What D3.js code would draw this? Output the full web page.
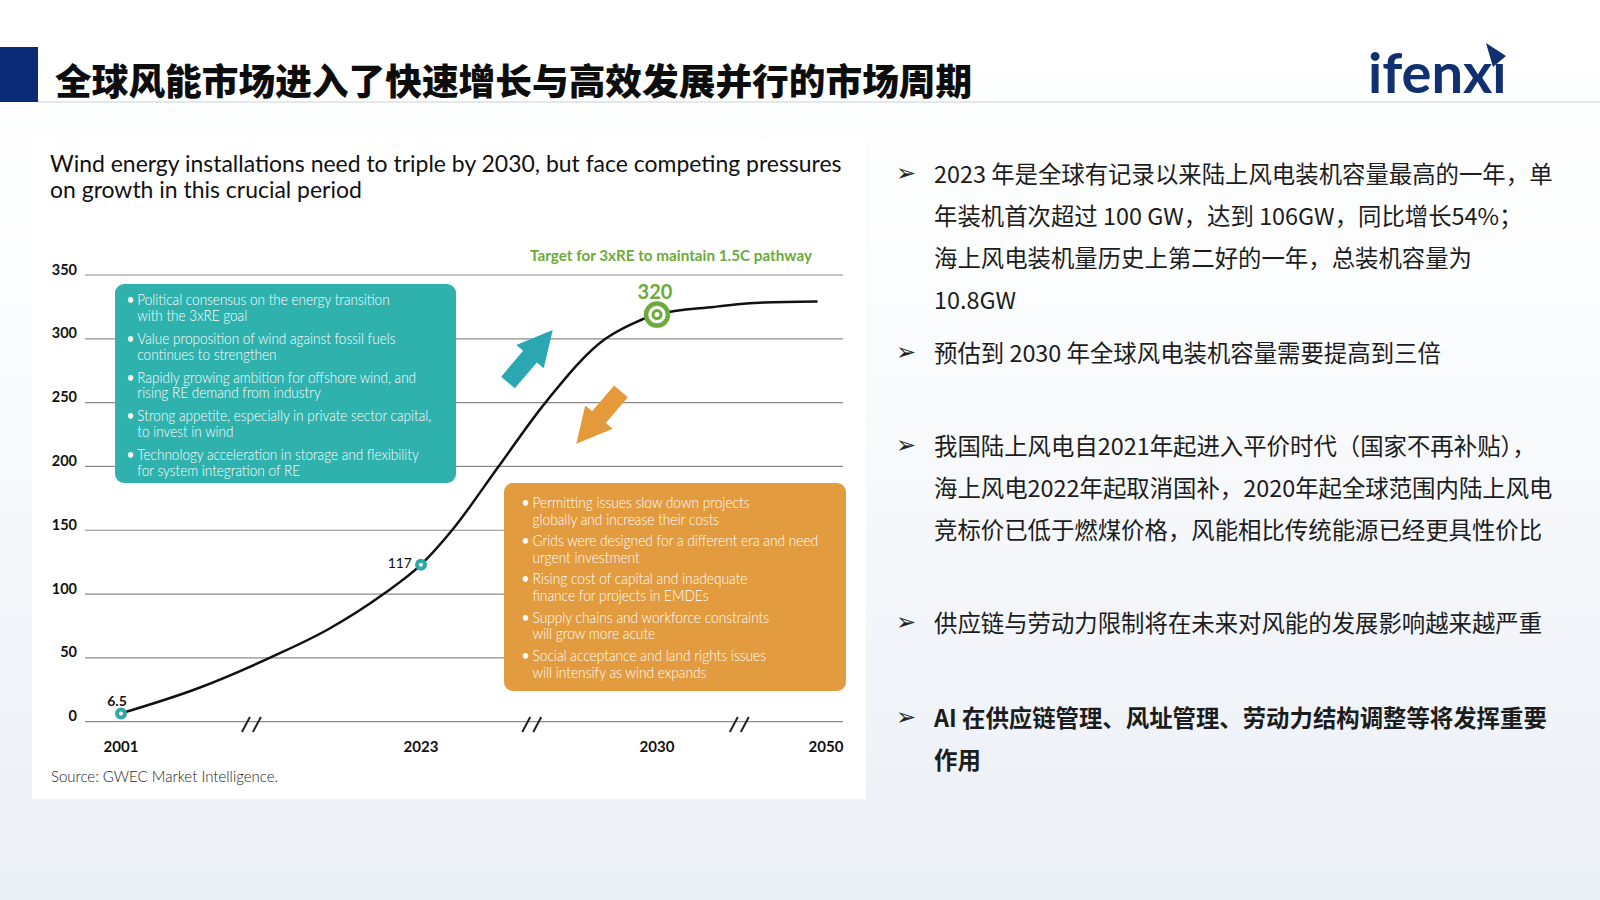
<!DOCTYPE html>
<html>
<head>
<meta charset="utf-8">
<title>全球风能市场</title>
<style>
  body { margin: 0; }
  svg { display: block; }
</style>
</head>
<body>
<script src="https://cdn.jsdelivr.net/npm/d3@7"></script>
<script>
// ---- data ----
var yTicks = [0, 50, 100, 150, 200, 250, 300, 350];
var xYears = [2001, 2023, 2030, 2050];
var breakYears = [2010.6, 2026.3, 2039.8];

// installed capacity curve (GW)
var curveYears  = [2001, 2006.6, 2011.9, 2016.3, 2020.25, 2023, 2023.92, 2025.3, 2026.69, 2028.47, 2029.2, 2030, 2036.7, 2042.6, 2049];
var curveValues = [6.5, 26, 50, 73, 100, 123, 150, 200, 250, 300, 311, 319, 325, 328.4, 329.2];

var markerYears  = [2001, 2023, 2030];
var markerValues = [6.5, 123, 319];
var markerLabels = ["6.5", "117", "320"];

var upDrivers = [
  ["Political consensus on the energy transition", "with the 3xRE goal"],
  ["Value proposition of wind against fossil fuels", "continues to strengthen"],
  ["Rapidly growing ambition for offshore wind, and", "rising RE demand from industry"],
  ["Strong appetite, especially in private sector capital,", "to invest in wind"],
  ["Technology acceleration in storage and flexibility", "for system integration of RE"]
];
var downDrivers = [
  ["Permitting issues slow down projects", "globally and increase their costs"],
  ["Grids were designed for a different era and need", "urgent investment"],
  ["Rising cost of capital and inadequate", "finance for projects in EMDEs"],
  ["Supply chains and workforce constraints", "will grow more acute"],
  ["Social acceptance and land rights issues", "will intensify as wind expands"]
];

var pageTitle = "全球风能市场进入了快速增长与高效发展并行的市场周期";
var chartTitle = ["Wind energy installations need to triple by 2030, but face competing pressures",
                  "on growth in this crucial period"];
var targetNote = "Target for 3xRE to maintain 1.5C pathway";
var sourceNote = "Source: GWEC Market Intelligence.";

// right-hand notes: each bullet is a list of lines
var notes = [
  { bold: false, lines: ["2023 年是全球有记录以来陆上风电装机容量最高的一年，单",
                         "年装机首次超过 100 GW，达到 106GW，同比增长54%；",
                         "海上风电装机量历史上第二好的一年，总装机容量为",
                         "10.8GW"] },
  { bold: false, lines: ["预估到 2030 年全球风电装机容量需要提高到三倍"] },
  { bold: false, lines: ["我国陆上风电自2021年起进入平价时代（国家不再补贴），",
                         "海上风电2022年起取消国补，2020年起全球范围内陆上风电",
                         "竞标价已低于燃煤价格，风能相比传统能源已经更具性价比"] },
  { bold: false, lines: ["供应链与劳动力限制将在未来对风能的发展影响越来越严重"] },
  { bold: true,  lines: ["AI 在供应链管理、风址管理、劳动力结构调整等将发挥重要",
                         "作用"] }
];
var noteTops = [173, 352, 445, 622, 717];

// ---- page ----
var width = 1600, height = 900;
var svg = d3.select("body").append("svg")
  .attr("width", width)
  .attr("height", height);

var defs = svg.append("defs");
var grad = defs.append("linearGradient").attr("id", "bg")
  .attr("x1", 0).attr("y1", 0).attr("x2", 0).attr("y2", 1);
grad.append("stop").attr("offset", "0%").attr("stop-color", "#ffffff");
grad.append("stop").attr("offset", "35%").attr("stop-color", "#fbfcfd");
grad.append("stop").attr("offset", "100%").attr("stop-color", "#ebeff6");

svg.append("rect").attr("width", width).attr("height", height).attr("fill", "url(#bg)");

// header
svg.append("rect").attr("x", 0).attr("y", 47).attr("width", 38).attr("height", 55).attr("fill", "#0b2b78");
svg.append("line").attr("x1", 38).attr("x2", width).attr("y1", 102).attr("y2", 102)
  .attr("stroke", "#dcdfe4").attr("stroke-width", 1.5);
svg.append("text")
  .attr("x", 55).attr("y", 79)
  .attr("dominant-baseline", "central")
  .style("font-family", "'Noto Sans CJK SC'")
  .style("font-weight", 900)
  .style("font-size", "36.7px")
  .attr("fill", "#0d0d0d")
  .text(pageTitle);

// logo
svg.append("text")
  .attr("x", 1368).attr("y", 93)
  .style("font-family", "Lato")
  .style("font-weight", 700)
  .style("font-size", "56px")
  .attr("fill", "#10306f")
  .text("ifenx\u0131");
svg.append("path")
  .attr("d", "M1486,43 L1506,56 L1493,67 Z")
  .attr("fill", "#10306f");

// ---- chart panel ----
svg.append("rect").attr("x", 32).attr("y", 140).attr("width", 834).attr("height", 659).attr("fill", "#fff");

// helper: squeeze a text group horizontally to a given width
function fitX(g, x0, w) {
  var bw = g.node().getBBox().width;
  g.attr("transform", "translate(" + x0 + ",0) scale(" + (w / bw) + ",1)");
}

var titleG = svg.append("g");
titleG.selectAll("text").data(chartTitle).enter().append("text")
  .attr("x", 0)
  .attr("y", function(d, i) { return 163 + i * 26; })
  .attr("dominant-baseline", "central")
  .style("font-family", "Lato")
  .style("font-size", "23px")
  .attr("fill", "#111")
  .text(function(d) { return d; });
fitX(titleG, 50, 792);

var x = d3.scaleLinear().domain(xYears).range([121, 421, 657, 826]);
var y = d3.scaleLinear().domain([0, 350]).range([721.7, 275]);

// grid
svg.append("g").selectAll("line").data(yTicks).enter().append("line")
  .attr("x1", 85).attr("x2", 843)
  .attr("y1", function(d) { return y(d); })
  .attr("y2", function(d) { return y(d); })
  .attr("stroke", "#8c8c8c").attr("stroke-width", 1.2);

svg.append("g").selectAll("text").data(yTicks).enter().append("text")
  .attr("x", 77)
  .attr("y", function(d) { return y(d) - 6; })
  .attr("text-anchor", "end")
  .attr("dominant-baseline", "central")
  .style("font-family", "Lato").style("font-weight", 700).style("font-size", "14.5px")
  .attr("fill", "#111")
  .text(function(d) { return d; });

svg.append("g").selectAll("text").data(xYears).enter().append("text")
  .attr("x", function(d) { return x(d); })
  .attr("y", 746)
  .attr("text-anchor", "middle")
  .attr("dominant-baseline", "central")
  .style("font-family", "Lato").style("font-weight", 700).style("font-size", "15px")
  .attr("fill", "#111")
  .text(function(d) { return d; });

// axis break marks
var brk = svg.append("g").selectAll("g").data(breakYears).enter().append("g");
[-6, 5].forEach(function(o) {
  brk.append("line")
    .attr("x1", function(d) { return x(d) + o - 4; })
    .attr("x2", function(d) { return x(d) + o + 4; })
    .attr("y1", 732).attr("y2", 717)
    .attr("stroke", "#222").attr("stroke-width", 2);
});

svg.append("text")
  .attr("x", 530).attr("y", 255)
  .attr("textLength", 282)
  .attr("lengthAdjust", "spacingAndGlyphs")
  .attr("dominant-baseline", "central")
  .style("font-family", "Lato").style("font-weight", 700).style("font-size", "15px")
  .attr("fill", "#6aab3a")
  .text(targetNote);

// driver boxes
function driverBox(items, bx, by, bw, bh, fill, tx, ty0, lineGap, itemGap, textW) {
  svg.append("rect").attr("x", bx).attr("y", by).attr("width", bw).attr("height", bh)
    .attr("rx", 9).attr("fill", fill);
  var g = svg.append("g");
  items.forEach(function(item, i) {
    var yy = ty0 + i * itemGap;
    g.append("text").attr("x", 0).attr("y", yy)
      .attr("dominant-baseline", "central")
      .style("font-family", "Lato").style("font-size", "15px").attr("fill", "#fff")
      .text("\u2022");
    item.forEach(function(line, j) {
      g.append("text").attr("x", 12).attr("y", yy + j * lineGap)
        .attr("dominant-baseline", "central")
        .style("font-family", "Lato").style("font-weight", 300).style("font-size", "15px")
        .attr("fill", "#fff")
        .text(line);
    });
  });
  fitX(g, tx, textW);
}
driverBox(upDrivers, 115, 284, 341, 199, "#2fb1ae", 126.5, 299.3, 15.8, 38.75, 305);
driverBox(downDrivers, 504, 483, 342, 208, "#e29b3f", 521.5, 502.3, 16.8, 38.2, 297);

// arrows
function arrow(cx, cy, angle, fill) {
  svg.append("path")
    .attr("d", "M0,-9 L34,-9 L34,-18 L69,0 L34,18 L34,9 L0,9 Z")
    .attr("transform", "translate(" + cx + "," + cy + ") rotate(" + angle + ")")
    .attr("fill", fill);
}
arrow(508, 382.5, -49.6, "#2aa7b2");
arrow(621, 391.3, 130.4, "#e4993b");

// curve
var line = d3.line()
  .x(function(d) { return x(d[0]); })
  .y(function(d) { return y(d[1]); })
  .curve(d3.curveMonotoneX);
svg.append("path")
  .datum(d3.zip(curveYears, curveValues))
  .attr("d", line)
  .attr("fill", "none")
  .attr("stroke", "#111")
  .attr("stroke-width", 2.5);

// markers
var teal = "#2fa9a6", green = "#6aab3a";
markerYears.forEach(function(yr, i) {
  var cx = x(yr), cy = y(markerValues[i]);
  if (i < 2) {
    svg.append("circle").attr("cx", cx).attr("cy", cy).attr("r", 6).attr("fill", teal);
    svg.append("circle").attr("cx", cx).attr("cy", cy).attr("r", 2).attr("fill", "#fff");
  } else {
    svg.append("circle").attr("cx", cx).attr("cy", cy).attr("r", 11).attr("fill", "#fff")
      .attr("stroke", green).attr("stroke-width", 4.5);
    svg.append("circle").attr("cx", cx).attr("cy", cy).attr("r", 4).attr("fill", "#fff")
      .attr("stroke", green).attr("stroke-width", 3);
  }
});
svg.append("text").attr("x", x(2001) - 4).attr("y", y(6.5) - 13)
  .attr("text-anchor", "middle").attr("dominant-baseline", "central")
  .style("font-family", "Lato").style("font-weight", 700).style("font-size", "14px")
  .attr("fill", "#111").text(markerLabels[0]);
svg.append("text").attr("x", x(2023) - 9).attr("y", y(123) - 2)
  .attr("text-anchor", "end").attr("dominant-baseline", "central")
  .style("font-family", "Lato").style("font-size", "14px")
  .attr("fill", "#111").text(markerLabels[1]);
svg.append("text").attr("x", x(2030) - 2).attr("y", y(319) - 24)
  .attr("text-anchor", "middle").attr("dominant-baseline", "central")
  .style("font-family", "Lato").style("font-weight", 700).style("font-size", "20px")
  .attr("fill", green).text(markerLabels[2]);

svg.append("text").attr("x", 51).attr("y", 776)
  .attr("dominant-baseline", "central")
  .style("font-family", "Lato").style("font-weight", 300).style("font-size", "15px")
  .attr("fill", "#222").text(sourceNote);

// ---- right-hand notes ----
notes.forEach(function(n, i) {
  var top = noteTops[i];
  svg.append("text").attr("x", 896).attr("y", top)
    .attr("dominant-baseline", "central")
    .style("font-family", "'DejaVu Sans'").style("font-size", "24px")
    .attr("fill", "#222").text("\u27A2");
  n.lines.forEach(function(l, j) {
    svg.append("text").attr("x", 934).attr("y", top + j * 42)
      .attr("dominant-baseline", "central")
      .style("font-family", "'Noto Sans CJK SC'")
      .style("font-weight", n.bold ? 700 : 400)
      .style("font-size", "23.4px")
      .attr("fill", "#1c1c1c")
      .text(l);
  });
});
</script>
</body>
</html>
